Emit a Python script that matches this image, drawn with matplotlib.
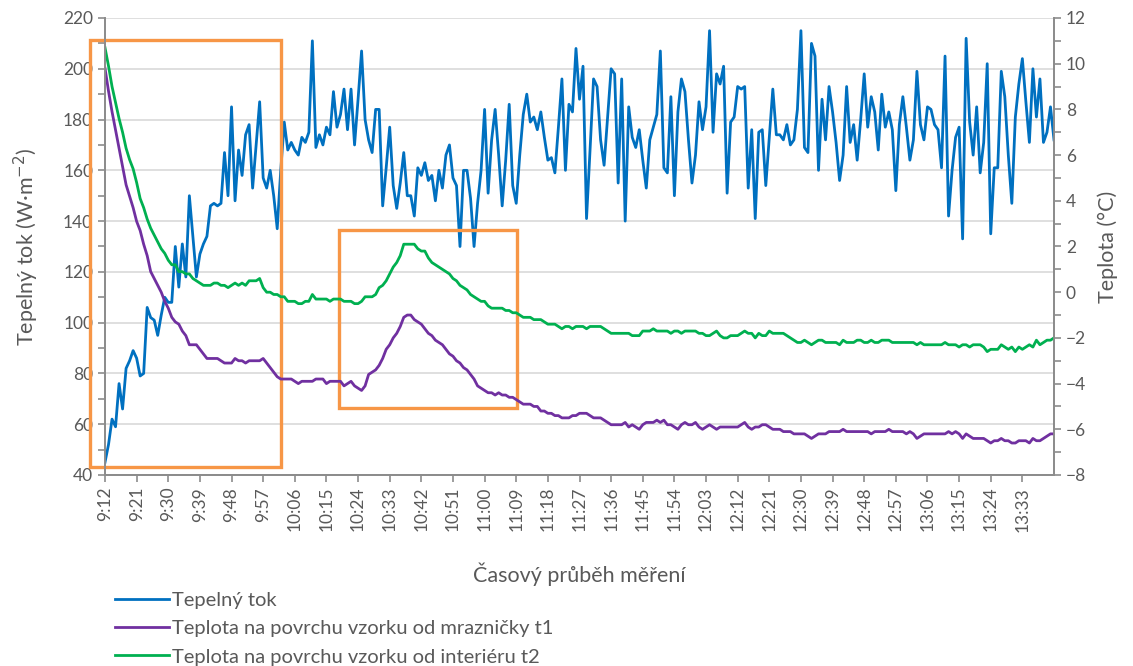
import matplotlib
matplotlib.use("Agg")
import matplotlib.pyplot as plt
import numpy as np
import pandas as pd
from matplotlib.patches import Rectangle
from matplotlib.ticker import MultipleLocator

plt.rcParams['font.family'] = ['Lato', 'DejaVu Sans']

# casove kategorie, 1 min krok od 9:12
times = pd.date_range("2020-01-01 09:12", periods=271, freq="1min")
time_labels = [f"{t.hour}:{t.minute:02d}" for t in times]

# Tepelny tok (W/m2)
tok = [45, 52, 62, 59, 76, 66, 82, 85, 89, 86,
       79, 80, 106, 102, 101, 95, 103, 110, 108, 108,
       130, 114, 131, 118, 150, 134, 118, 127, 131, 134,
       146, 147, 146, 147, 167, 150, 185, 148, 168, 158,
       174, 178, 153, 170, 187, 157, 153, 160, 150, 137,
       160, 179, 168, 171, 168, 166, 173, 171, 175, 211,
       169, 174, 170, 177, 174, 191, 177, 182, 192, 176,
       192, 170, 188, 207, 180, 172, 167, 184, 184, 146,
       161, 177, 154, 145, 155, 167, 150, 150, 142, 161,
       158, 163, 156, 158, 148, 160, 153, 166, 170, 157,
       154, 130, 160, 160, 149, 130, 147, 160, 184, 151,
       172, 184, 166, 146, 164, 186, 154, 147, 166, 182,
       190, 179, 181, 176, 183, 173, 164, 165, 159, 177,
       196, 160, 186, 183, 208, 188, 201, 141, 168, 196,
       193, 172, 162, 181, 200, 198, 155, 196, 140, 185,
       173, 169, 176, 164, 153, 172, 177, 182, 207, 161,
       159, 189, 150, 183, 196, 191, 172, 155, 166, 187,
       176, 185, 215, 175, 198, 194, 201, 151, 179, 181,
       193, 192, 193, 153, 176, 141, 175, 176, 154, 173,
       192, 174, 174, 172, 178, 170, 172, 184, 215, 169,
       167, 210, 205, 160, 188, 172, 193, 183, 171, 156,
       166, 193, 171, 178, 164, 180, 198, 177, 189, 183,
       168, 190, 177, 183, 176, 152, 178, 189, 177, 164,
       172, 199, 178, 172, 185, 184, 178, 176, 161, 205,
       142, 160, 173, 177, 133, 212, 179, 166, 185, 159,
       171, 202, 135, 161, 161, 199, 189, 166, 147, 181,
       194, 204, 187, 171, 200, 181, 196, 171, 175, 185,
       172]

# Teplota t1 - od mraznicky (°C)
t1 = [9.8, 8.8, 7.9, 7.1, 6.3, 5.5, 4.7, 4.2, 3.7, 3.1,
      2.7, 2.1, 1.6, 0.9, 0.6, 0.3, 0.0, -0.4, -0.7, -1.1,
      -1.3, -1.4, -1.7, -1.9, -2.3, -2.3, -2.3, -2.5, -2.7, -2.9,
      -2.9, -2.9, -2.9, -3.0, -3.1, -3.1, -3.1, -2.9, -3.0, -3.0,
      -3.1, -3.0, -3.0, -3.0, -3.0, -2.9, -3.1, -3.3, -3.5, -3.7,
      -3.8, -3.8, -3.8, -3.8, -3.9, -4.0, -3.9, -3.9, -3.9, -3.9,
      -3.8, -3.8, -3.8, -4.0, -3.9, -3.9, -3.9, -3.9, -4.1, -4.0,
      -3.9, -4.1, -4.2, -4.3, -4.1, -3.6, -3.5, -3.4, -3.2, -2.9,
      -2.5, -2.3, -2.0, -1.8, -1.5, -1.1, -1.0, -1.0, -1.2, -1.3,
      -1.4, -1.6, -1.8, -1.9, -2.1, -2.2, -2.3, -2.5, -2.7, -2.8,
      -3.0, -3.1, -3.3, -3.4, -3.6, -3.8, -4.1, -4.2, -4.3, -4.4,
      -4.4, -4.5, -4.4, -4.5, -4.5, -4.6, -4.6, -4.7, -4.8, -4.9,
      -4.9, -4.9, -5.0, -5.0, -5.2, -5.2, -5.3, -5.3, -5.4, -5.4,
      -5.5, -5.5, -5.5, -5.4, -5.4, -5.3, -5.3, -5.3, -5.4, -5.5,
      -5.5, -5.5, -5.6, -5.7, -5.8, -5.8, -5.8, -5.8, -5.7, -5.9,
      -5.8, -5.9, -6.0, -5.8, -5.7, -5.7, -5.7, -5.6, -5.7, -5.6,
      -5.8, -5.8, -5.9, -6.0, -5.8, -5.7, -5.8, -5.8, -5.7, -5.9,
      -6.0, -5.9, -5.8, -5.9, -6.0, -5.9, -5.9, -5.9, -5.9, -5.9,
      -5.9, -5.8, -5.7, -5.9, -6.0, -5.9, -5.9, -5.8, -5.8, -5.9,
      -6.0, -6.0, -6.0, -6.1, -6.1, -6.1, -6.2, -6.2, -6.2, -6.2,
      -6.3, -6.4, -6.3, -6.2, -6.2, -6.2, -6.1, -6.1, -6.1, -6.1,
      -6.0, -6.1, -6.1, -6.1, -6.1, -6.1, -6.1, -6.1, -6.2, -6.1,
      -6.1, -6.1, -6.1, -6.0, -6.1, -6.1, -6.1, -6.1, -6.2, -6.1,
      -6.2, -6.4, -6.3, -6.2, -6.2, -6.2, -6.2, -6.2, -6.2, -6.2,
      -6.1, -6.2, -6.1, -6.2, -6.4, -6.2, -6.3, -6.4, -6.4, -6.4,
      -6.4, -6.5, -6.6, -6.5, -6.5, -6.4, -6.5, -6.5, -6.6, -6.6,
      -6.5, -6.5, -6.5, -6.6, -6.4, -6.5, -6.5, -6.4, -6.3, -6.2,
      -6.2]

# Teplota t2 - od interieru (°C)
t2 = [10.7, 9.9, 9.0, 8.3, 7.6, 7.0, 6.3, 5.8, 5.4, 4.8,
      4.1, 3.7, 3.2, 2.8, 2.5, 2.2, 1.9, 1.7, 1.4, 1.2,
      1.2, 0.9, 0.9, 0.8, 0.8, 0.6, 0.5, 0.4, 0.3, 0.3,
      0.3, 0.4, 0.4, 0.3, 0.3, 0.2, 0.3, 0.4, 0.3, 0.4,
      0.3, 0.5, 0.5, 0.5, 0.6, 0.2, 0.0, 0.0, -0.1, -0.1,
      -0.2, -0.2, -0.4, -0.4, -0.4, -0.5, -0.5, -0.4, -0.4, -0.1,
      -0.3, -0.3, -0.3, -0.3, -0.4, -0.3, -0.3, -0.3, -0.4, -0.4,
      -0.4, -0.5, -0.5, -0.4, -0.2, -0.2, -0.2, -0.1, 0.2, 0.3,
      0.5, 0.8, 1.1, 1.3, 1.6, 2.1, 2.1, 2.1, 2.1, 1.9,
      1.8, 1.8, 1.5, 1.3, 1.2, 1.1, 1.0, 0.9, 0.8, 0.6,
      0.5, 0.3, 0.2, 0.1, -0.1, -0.2, -0.3, -0.4, -0.4, -0.6,
      -0.7, -0.7, -0.7, -0.7, -0.8, -0.8, -0.9, -0.9, -1.0, -1.1,
      -1.1, -1.1, -1.2, -1.2, -1.2, -1.3, -1.4, -1.4, -1.4, -1.5,
      -1.6, -1.5, -1.5, -1.6, -1.5, -1.5, -1.5, -1.6, -1.5, -1.5,
      -1.5, -1.5, -1.6, -1.7, -1.8, -1.8, -1.8, -1.8, -1.8, -1.8,
      -1.9, -1.9, -1.9, -1.7, -1.7, -1.7, -1.6, -1.7, -1.7, -1.7,
      -1.7, -1.8, -1.7, -1.7, -1.8, -1.7, -1.7, -1.7, -1.7, -1.8,
      -1.8, -1.9, -1.9, -1.8, -1.7, -1.9, -2.0, -2.0, -1.9, -1.9,
      -1.9, -1.8, -1.7, -1.8, -1.8, -2.0, -1.8, -1.9, -1.9, -1.7,
      -1.8, -1.8, -1.8, -1.8, -1.9, -2.0, -2.1, -2.2, -2.2, -2.1,
      -2.2, -2.3, -2.2, -2.1, -2.1, -2.2, -2.2, -2.2, -2.2, -2.3,
      -2.1, -2.2, -2.2, -2.2, -2.1, -2.1, -2.2, -2.2, -2.1, -2.2,
      -2.2, -2.1, -2.1, -2.1, -2.2, -2.2, -2.2, -2.2, -2.2, -2.2,
      -2.2, -2.3, -2.2, -2.3, -2.3, -2.3, -2.3, -2.3, -2.3, -2.2,
      -2.3, -2.3, -2.3, -2.4, -2.3, -2.3, -2.4, -2.3, -2.3, -2.3,
      -2.4, -2.6, -2.5, -2.5, -2.5, -2.3, -2.4, -2.5, -2.4, -2.6,
      -2.4, -2.5, -2.4, -2.3, -2.4, -2.1, -2.3, -2.2, -2.1, -2.1,
      -2.0]

# zvyraznene useky (index od-do, tok od-do)
boxes = [(-4.3, 50.1, 43.3, 211.4), (66.6, 117.2, 66.5, 136.6)]

gray = "#595959"
x = np.arange(len(time_labels))

fig = plt.figure(figsize=(11.33, 6.66), dpi=100)
ax = fig.add_axes([105 / 1133, 1 - 475 / 666, (1054 - 105) / 1133, (475 - 18) / 666])
ax2 = ax.twinx()

l1, = ax.plot(x, tok, color="#0070C0", lw=2.0, zorder=3)
l2, = ax2.plot(x, t1, color="#7030A0", lw=2.0)
l3, = ax2.plot(x, t2, color="#00B050", lw=2.0)

ax.set_xlim(0, len(x) - 1)
ax.set_ylim(40, 220)
ax2.set_ylim(-8, 12)

ax.yaxis.set_major_locator(MultipleLocator(20))
ax.yaxis.set_minor_locator(MultipleLocator(10))
ax2.yaxis.set_major_locator(MultipleLocator(2))
ax2.yaxis.set_minor_locator(MultipleLocator(1))
ax.grid(axis="y", which="major", color="#D9D9D9", lw=1.2)
ax.set_axisbelow(True)

ticks = x[:-1:9]
ax.set_xticks(ticks)
ax.set_xticklabels([time_labels[i] for i in ticks], rotation=90)

for a in (ax, ax2):
    for s in a.spines.values():
        s.set_color("#8C8C8C")
        s.set_linewidth(1.3)
    a.spines["top"].set_visible(False)
    a.tick_params(which="both", colors="#8C8C8C", labelcolor=gray, labelsize=12.5,
                  length=5, width=1.2)

ax.set_ylabel("Tepelný tok (W·m$^{-2}$)", fontsize=15.5, color=gray, labelpad=16)
ax2.set_ylabel("Teplota (°C)", fontsize=15.5, color=gray, labelpad=8)
ax.set_xlabel("Časový průběh měření", fontsize=15.5, color=gray, labelpad=22)

for x0, x1, y0, y1 in boxes:
    ax.add_patch(Rectangle((x0, y0), x1 - x0, y1 - y0, fill=False,
                           ec="#F79646", lw=2.4, clip_on=False, zorder=5))

leg = fig.legend([l1, l2, l3],
                 ["Tepelný tok", "Teplota na povrchu vzorku od mrazničky t1",
                  "Teplota na povrchu vzorku od interiéru t2"],
                 loc="upper left", bbox_to_anchor=(105 / 1133, 1 - 582 / 666),
                 frameon=False, fontsize=14.5, handlelength=2.7,
                 handletextpad=0.15, labelspacing=0.55, borderpad=0)
for t in leg.get_texts():
    t.set_color(gray)

fig.savefig("out.png", dpi=100)
